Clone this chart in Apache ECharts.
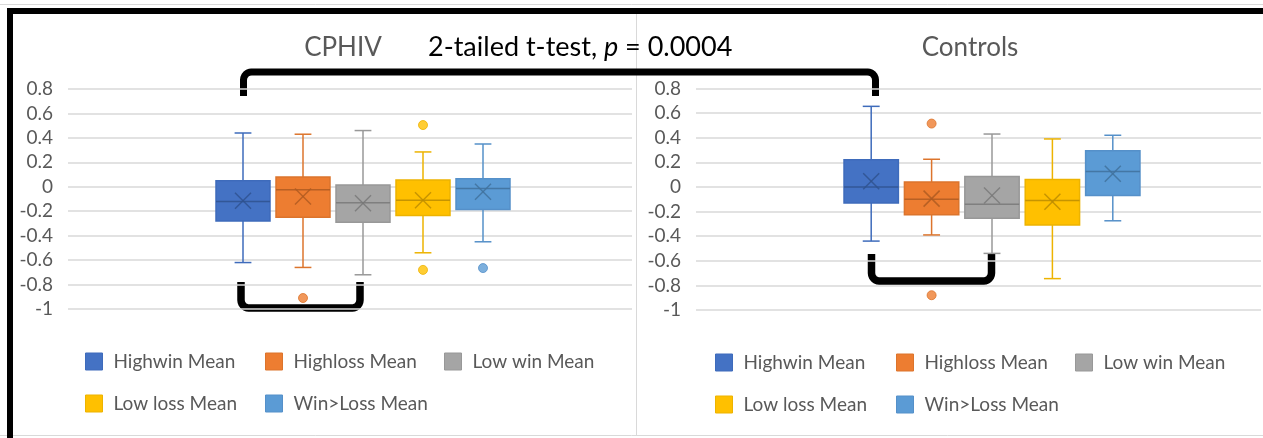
<!DOCTYPE html>
<html>
<head>
<meta charset="utf-8">
<script src="https://cdn.jsdelivr.net/npm/echarts@6/dist/echarts.min.js"></script>
<style>
  html, body { margin: 0; padding: 0; background: #ffffff; }
  #chart { width: 1263px; height: 438px; }
</style>
</head>
<body>
<div id="chart"></div>
<script>
// Groups shown in each panel
const seriesNames = ['Highwin Mean', 'Highloss Mean', 'Low win Mean', 'Low loss Mean', 'Win>Loss Mean'];
const panelTitles = ['CPHIV', 'Controls'];
const testLabel = '2-tailed t-test, {i|p} = 0.0004';

// Value axis range and step
const yMin = -1;
const yMax = 0.8;
const yStep = 0.2;

// CPHIV: [lower whisker, Q1, median, Q3, upper whisker]
const cphivBoxes = [
  [-0.62, -0.28, -0.12, 0.05, 0.44],
  [-0.66, -0.25, -0.025, 0.08, 0.43],
  [-0.72, -0.29, -0.13, 0.015, 0.46],
  [-0.54, -0.235, -0.11, 0.055, 0.285],
  [-0.45, -0.185, -0.015, 0.065, 0.35]
];
const cphivMeans = [-0.115, -0.08, -0.135, -0.11, -0.04];
const cphivOutliers = [[], [-0.91], [], [0.505, -0.68], [-0.665]];

// Controls: [lower whisker, Q1, median, Q3, upper whisker]
const controlBoxes = [
  [-0.44, -0.13, 0.0, 0.22, 0.655],
  [-0.39, -0.225, -0.10, 0.04, 0.225],
  [-0.54, -0.255, -0.14, 0.085, 0.43],
  [-0.745, -0.31, -0.11, 0.06, 0.39],
  [-0.275, -0.07, 0.125, 0.295, 0.42]
];
const controlMeans = [0.047, -0.095, -0.07, -0.12, 0.107];
const controlOutliers = [[], [0.515, -0.88], [], [], []];

// Office palette
const fillColors = ['#4472C4', '#ED7D31', '#A5A5A5', '#FFC000', '#5B9BD5'];
const edgeColors = ['#3E6BBB', '#DC742C', '#989898', '#EDB300', '#5590C9'];
const markColors = ['#2F528F', '#AE5A21', '#787878', '#BC8C00', '#41719C'];

const FONT = 'Lato, "Liberation Sans", sans-serif';
const TEXT_GREY = '#595959';

const panels = [
  { boxes: cphivBoxes, means: cphivMeans, outliers: cphivOutliers },
  { boxes: controlBoxes, means: controlMeans, outliers: controlOutliers }
];

function makeRenderer(idx) {
  return function (params, api) {
    const cat = api.value(0);
    const band = api.size([1, 0])[0];
    const half = band * 0.45;
    const capHalf = band * 0.14;
    const x = api.coord([cat, api.value(3)])[0];
    const yLow = api.coord([cat, api.value(1)])[1];
    const yQ1 = api.coord([cat, api.value(2)])[1];
    const yMed = api.coord([cat, api.value(3)])[1];
    const yQ3 = api.coord([cat, api.value(4)])[1];
    const yHigh = api.coord([cat, api.value(5)])[1];
    const yMean = api.coord([cat, api.value(6)])[1];
    const wStyle = { stroke: edgeColors[idx], lineWidth: 1.5 };
    const mStyle = { stroke: markColors[idx], lineWidth: 1.5, opacity: 0.85 };
    const xs = 8;
    return {
      type: 'group',
      children: [
        { type: 'line', shape: { x1: x, y1: yHigh, x2: x, y2: yQ3 }, style: wStyle },
        { type: 'line', shape: { x1: x, y1: yQ1, x2: x, y2: yLow }, style: wStyle },
        { type: 'line', shape: { x1: x - capHalf, y1: yHigh, x2: x + capHalf, y2: yHigh }, style: wStyle },
        { type: 'line', shape: { x1: x - capHalf, y1: yLow, x2: x + capHalf, y2: yLow }, style: wStyle },
        {
          type: 'rect',
          shape: { x: x - half, y: yQ3, width: half * 2, height: yQ1 - yQ3 },
          style: { fill: fillColors[idx], stroke: edgeColors[idx], lineWidth: 1.5 }
        },
        { type: 'line', shape: { x1: x - half, y1: yMed, x2: x + half, y2: yMed }, style: mStyle },
        { type: 'line', shape: { x1: x - xs, y1: yMean - xs, x2: x + xs, y2: yMean + xs }, style: mStyle },
        { type: 'line', shape: { x1: x - xs, y1: yMean + xs, x2: x + xs, y2: yMean - xs }, style: mStyle }
      ]
    };
  };
}

const series = [];
panels.forEach(function (panel, p) {
  const axisIdx = p * 2 + 1;
  seriesNames.forEach(function (name, i) {
    series.push({
      type: 'custom',
      name: name,
      xAxisIndex: axisIdx,
      yAxisIndex: axisIdx,
      itemStyle: { color: fillColors[i] },
      renderItem: makeRenderer(i),
      encode: { x: 0, y: [1, 2, 3, 4, 5, 6] },
      data: [[i].concat(panel.boxes[i], [panel.means[i]])],
      z: 3
    });
    if (panel.outliers[i].length) {
      series.push({
        type: 'scatter',
        name: name,
        xAxisIndex: axisIdx,
        yAxisIndex: axisIdx,
        symbol: 'circle',
        symbolSize: 9,
        itemStyle: { color: fillColors[i], borderColor: edgeColors[i], borderWidth: 1 },
        data: panel.outliers[i].map(function (v) { return [i, v]; }),
        z: 4
      });
    }
  });
});

// Background grids carry the value labels and gridlines; box grids place the groups
const grids = [
  { left: 68, right: 631, top: 89, height: 220 },
  { left: 213, width: 300, top: 89, height: 220 },
  { left: 696, right: 2, top: 88.5, height: 221.5 },
  { left: 841, width: 302, top: 88.5, height: 221.5 }
];

const xAxes = grids.map(function (g, k) {
  if (k % 2 === 0) {
    return { type: 'value', gridIndex: k, show: false, min: 0, max: 1 };
  }
  return { type: 'category', gridIndex: k, show: false, data: seriesNames, boundaryGap: true };
});

const yAxes = grids.map(function (g, k) {
  const shown = k % 2 === 0;
  return {
    type: 'value',
    gridIndex: k,
    min: yMin,
    max: yMax,
    interval: yStep,
    show: shown,
    axisLine: { show: false },
    axisTick: { show: false },
    splitLine: { show: shown, lineStyle: { color: '#D9D9D9', width: 1.5 } },
    axisLabel: { color: TEXT_GREY, fontSize: 19, fontFamily: FONT, margin: 15 }
  };
});

// One legend block per entry so the columns line up
const legendCols = [[85, 265, 444], [715, 896, 1075]];
const legendRows = [[352, 394], [353, 395]];
const legends = [];
[0, 1].forEach(function (p) {
  seriesNames.forEach(function (name, i) {
    const col = i < 3 ? i : i - 3;
    const row = i < 3 ? 0 : 1;
    legends.push({
      data: [{ name: name, itemStyle: { color: fillColors[i], borderColor: edgeColors[i], borderWidth: 1 } }],
      left: legendCols[p][col],
      top: legendRows[p][row],
      icon: 'rect',
      itemWidth: 17,
      itemHeight: 17,
      selectedMode: false,
      padding: 0,
      textStyle: { color: TEXT_GREY, fontSize: 19, fontFamily: FONT, padding: [0, 0, 0, 6] }
    });
  });
});

// Square bracket with rounded corners, as a polyline
function bracket(x1, x2, yEnd, yBar) {
  const r = 8;
  const dir = yBar < yEnd ? -1 : 1;
  const pts = [[x1, yEnd]];
  const steps = 6;
  // left corner
  for (let s = 0; s <= steps; s++) {
    const a = (Math.PI / 2) * (s / steps);
    pts.push([x1 + r - r * Math.cos(a), yBar - dir * r + dir * r * Math.sin(a)]);
  }
  // right corner
  for (let s = 0; s <= steps; s++) {
    const a = (Math.PI / 2) * (s / steps);
    pts.push([x2 - r + r * Math.sin(a), yBar - dir * r + dir * r * Math.cos(a)]);
  }
  pts.push([x2, yEnd]);
  return pts;
}

const frame = [
  // light chart borders
  { type: 'line', shape: { x1: 0, y1: 4.5, x2: 1263, y2: 4.5 }, style: { stroke: '#D9D9D9', lineWidth: 1 } },
  { type: 'line', shape: { x1: 0, y1: 435.5, x2: 1263, y2: 435.5 }, style: { stroke: '#D9D9D9', lineWidth: 1 } },
  { type: 'line', shape: { x1: 636.5, y1: 14, x2: 636.5, y2: 436 }, style: { stroke: '#D9D9D9', lineWidth: 1 } },
  // thick outer frame
  { type: 'line', shape: { x1: 10, y1: 8, x2: 10, y2: 438 }, style: { stroke: '#000', lineWidth: 6 } },
  { type: 'line', shape: { x1: 7, y1: 11, x2: 1263, y2: 11 }, style: { stroke: '#000', lineWidth: 6 } },
  // comparison brackets
  {
    type: 'polyline', shape: { points: bracket(243.5, 875.5, 96, 72) },
    style: { stroke: '#000', lineWidth: 7, fill: null, lineJoin: 'round' }
  },
  {
    type: 'polyline', shape: { points: bracket(241, 360, 282, 308) },
    style: { stroke: '#000', lineWidth: 7.5, fill: null, lineJoin: 'round' }
  },
  {
    type: 'polyline', shape: { points: bracket(871.5, 991.5, 254, 281) },
    style: { stroke: '#000', lineWidth: 7.5, fill: null, lineJoin: 'round' }
  },
  // panel titles and test annotation
  {
    type: 'text', x: 343, y: 48,
    style: { text: panelTitles[0], fill: TEXT_GREY, fontSize: 26, fontFamily: FONT, align: 'center', verticalAlign: 'middle' }
  },
  {
    type: 'text', x: 970, y: 48,
    style: { text: panelTitles[1], fill: TEXT_GREY, fontSize: 26, fontFamily: FONT, align: 'center', verticalAlign: 'middle' }
  },
  {
    type: 'text', x: 428, y: 47,
    style: {
      text: testLabel, fill: '#000', fontSize: 27, fontFamily: FONT, align: 'left', verticalAlign: 'middle',
      rich: { i: { fontStyle: 'italic', fontSize: 27, fontFamily: FONT, fill: '#000' } }
    }
  }
];

const chart = echarts.init(document.getElementById('chart'), null, { renderer: 'canvas' });
chart.setOption({
  backgroundColor: '#ffffff',
  animation: false,
  grid: grids,
  xAxis: xAxes,
  yAxis: yAxes,
  legend: legends,
  series: series,
  graphic: { elements: frame }
});
</script>
</body>
</html>
